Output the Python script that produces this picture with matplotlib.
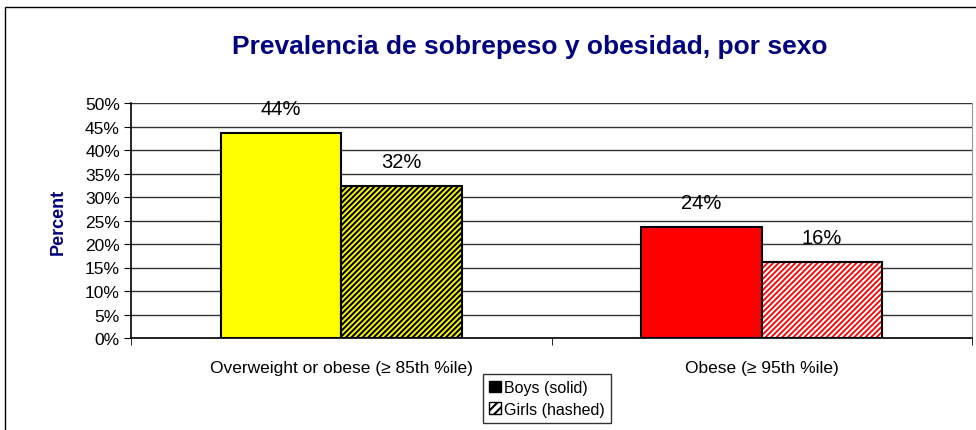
import matplotlib
matplotlib.use("Agg")
import matplotlib.pyplot as plt
import numpy as np
from matplotlib.patches import Patch, Rectangle

plt.rcParams['font.family'] = ['Liberation Sans', 'DejaVu Sans']
plt.rcParams['hatch.linewidth'] = 1.5

# data
categories = ['Overweight or obese (\u2265 85th %ile)', 'Obese (\u2265 95th %ile)']
boys = [43.6, 23.6]
girls = [32.3, 16.2]
boys_labels = ['44%', '24%']
girls_labels = ['32%', '16%']
cat_colors = ['#ffff00', '#ff0000']
hatch_colors = ['black', 'white']

fig = plt.figure(figsize=(9.76, 4.31), dpi=100)
# outer chart frame
fig.patches.append(Rectangle((5 / 976, -0.1), 1.2, (431 - 8) / 431 + 0.1,
                             transform=fig.transFigure, fill=False,
                             edgecolor='black', linewidth=1))

ax = fig.add_axes([131 / 976, 92 / 431, 841 / 976, 235 / 431])

x = np.arange(len(categories))
w = 0.286

# boys: solid bars
ax.bar(x - w / 2, boys, w, color=cat_colors, edgecolor='black', linewidth=1.5, zorder=3)
# girls: hashed bars (hatch first, then the black outline)
for i in range(len(categories)):
    ax.bar(x[i] + w / 2, girls[i], w, color=cat_colors[i], hatch='//////',
           edgecolor=hatch_colors[i], linewidth=0, zorder=3)
ax.bar(x + w / 2, girls, w, fill=False, edgecolor='black', linewidth=1.5, zorder=4)

for i in range(len(categories)):
    ax.annotate(boys_labels[i], (x[i] - w / 2, boys[i]), xytext=(0, 11),
                textcoords='offset points', ha='center', va='bottom', fontsize=14.5)
    ax.annotate(girls_labels[i], (x[i] + w / 2, girls[i]), xytext=(0, 11),
                textcoords='offset points', ha='center', va='bottom', fontsize=14.5)

ax.set_xlim(-0.5, 1.5)
ax.set_ylim(0, 50)
ax.set_yticks(np.arange(0, 51, 5))
ax.set_yticklabels(['{}%'.format(v) for v in range(0, 51, 5)], fontsize=12.5)
ax.set_xticks(x)
ax.set_xticklabels(categories, fontsize=12.5)
ax.tick_params(axis='x', length=0, pad=16)
ax.set_xticks([-0.5, 0.5, 1.5], minor=True)
ax.tick_params(axis='x', which='minor', length=5, direction='out')
ax.tick_params(axis='y', length=5, direction='out', pad=3)
ax.yaxis.grid(True, color='#333333', linewidth=1)
ax.set_axisbelow(True)
ax.spines['top'].set_visible(False)
ax.spines['right'].set_color('#999999')
ax.spines['left'].set_linewidth(1.2)
ax.spines['bottom'].set_linewidth(1.2)

ax.set_ylabel('Percent', fontsize=13, fontweight='bold', color='#000080', labelpad=13)

fig.text(530 / 976, 1 - 47 / 431, 'Prevalencia de sobrepeso y obesidad, por sexo',
         ha='center', va='center', fontsize=19, fontweight='bold', color='#000080')

handles = [Patch(facecolor='black', edgecolor='black', label='Boys (solid)'),
           Patch(facecolor='white', edgecolor='black', hatch='////', label='Girls (hashed)')]
leg = fig.legend(handles=handles, loc='lower center', bbox_to_anchor=(547 / 976, 7 / 431),
                 fontsize=11.5, frameon=True, fancybox=False, edgecolor='black',
                 handlelength=0.7, handleheight=0.7, handletextpad=0.2,
                 borderpad=0.4, labelspacing=0.4, borderaxespad=0)
leg.get_frame().set_linewidth(1)

fig.savefig('out.png', dpi=100)
